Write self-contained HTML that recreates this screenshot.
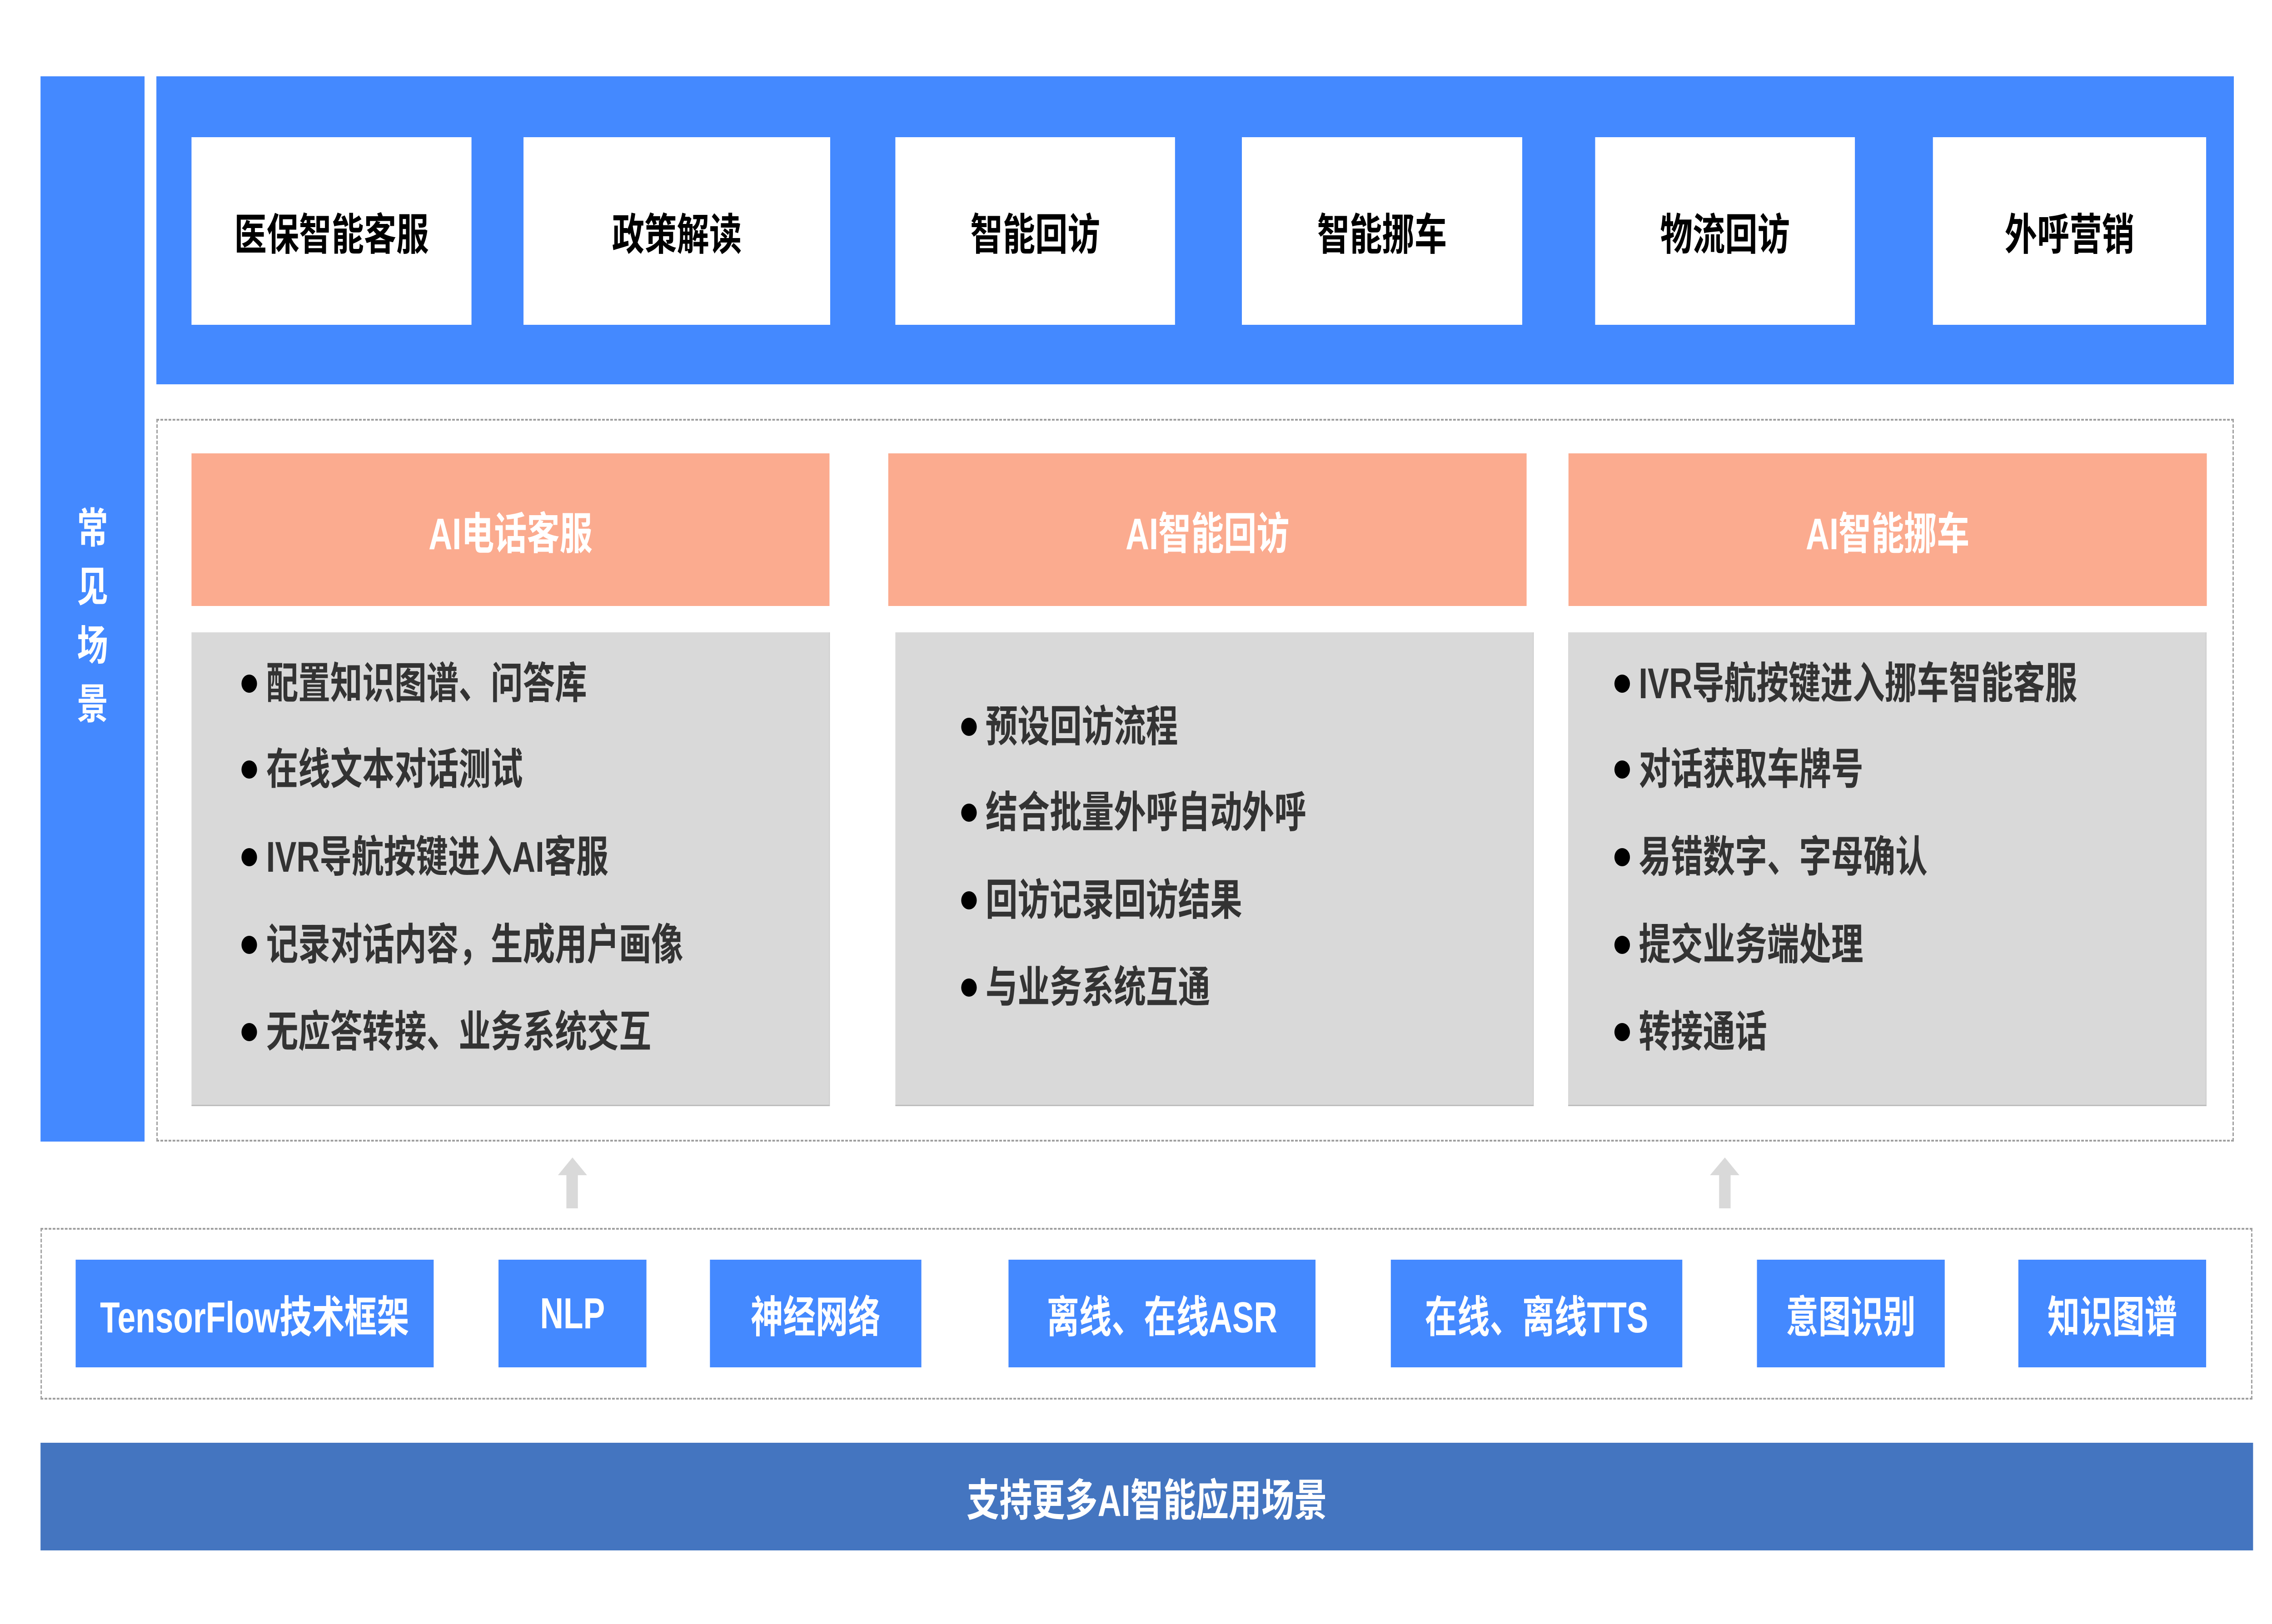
<!DOCTYPE html>
<html><head><meta charset="utf-8"><style>
*{margin:0;padding:0;box-sizing:border-box}
html,body{margin:0;overflow:hidden;background:#fff}
body{font-family:"Liberation Sans","Noto Sans CJK SC",sans-serif;font-weight:bold}
#w{position:absolute;left:0;top:0;width:6727px;height:3575px;overflow:hidden;transform-origin:0 0;background:#fff}
.a{position:absolute}
.c{display:flex;align-items:center;justify-content:center;white-space:nowrap}
.blue{background:#4489FF}
.wb{background:#fff;color:#000;font-size:96px}
.or{background:#FBAB8F;color:#fff;font-size:97px}
.gr{background:#D9D9D9;border-bottom:3px solid #bdbdbd;border-right:2px solid #c8c8c8}
.li{position:absolute;font-size:95px;color:#333;white-space:nowrap;line-height:100px;height:100px}
.bu{position:absolute;width:46px;height:40px;border-radius:50%;background:#000}
.tk{background:#4489FF;color:#fff;font-size:96px}
.dash{border:4px dashed #a0a0a0}
</style></head><body><div id="w">
<div class="a blue" style="left:120px;top:168px;width:308px;height:2345px"></div>
<div class="a" style="left:228px;top:1100px;width:92px;color:#fff;font-size:92px;line-height:129px;text-align:center">常<br>见<br>场<br>景</div>
<div class="a blue" style="left:463px;top:168px;width:6151px;height:678px"></div>
<div class="a c wb" style="left:567px;top:302px;width:829px;height:413px">医保智能客服</div>
<div class="a c wb" style="left:1550px;top:302px;width:908px;height:413px">政策解读</div>
<div class="a c wb" style="left:2651px;top:302px;width:828px;height:413px">智能回访</div>
<div class="a c wb" style="left:3677px;top:302px;width:830px;height:413px">智能挪车</div>
<div class="a c wb" style="left:4723px;top:302px;width:769px;height:413px">物流回访</div>
<div class="a c wb" style="left:5723px;top:302px;width:809px;height:413px">外呼营销</div>
<div class="a dash" style="left:463px;top:922px;width:6151px;height:1591px"></div>
<div class="a c or" style="left:567px;top:998px;width:1889px;height:336px">AI电话客服</div>
<div class="a c or" style="left:2630px;top:998px;width:1890px;height:336px">AI智能回访</div>
<div class="a c or" style="left:4644px;top:998px;width:1890px;height:336px">AI智能挪车</div>
<div class="a gr" style="left:567px;top:1392px;width:1890px;height:1043px"></div>
<div class="a gr" style="left:2651px;top:1392px;width:1890px;height:1043px"></div>
<div class="a gr" style="left:4643px;top:1392px;width:1890px;height:1043px"></div>
<div class="bu" style="left:715px;top:1485px"></div><div class="li" style="left:788px;top:1455px">配置知识图谱、问答库</div>
<div class="bu" style="left:715px;top:1674px"></div><div class="li" style="left:788px;top:1644px">在线文本对话测试</div>
<div class="bu" style="left:715px;top:1867px"></div><div class="li" style="left:788px;top:1837px">IVR导航按键进入AI客服</div>
<div class="bu" style="left:715px;top:2060px"></div><div class="li" style="left:788px;top:2030px">记录对话内容，生成用户画像</div>
<div class="bu" style="left:715px;top:2252px"></div><div class="li" style="left:788px;top:2222px">无应答转接、业务系统交互</div>
<div class="bu" style="left:2846px;top:1580px"></div><div class="li" style="left:2918px;top:1550px">预设回访流程</div>
<div class="bu" style="left:2846px;top:1769px"></div><div class="li" style="left:2918px;top:1739px">结合批量外呼自动外呼</div>
<div class="bu" style="left:2846px;top:1962px"></div><div class="li" style="left:2918px;top:1932px">回访记录回访结果</div>
<div class="bu" style="left:2846px;top:2154px"></div><div class="li" style="left:2918px;top:2124px">与业务系统互通</div>
<div class="bu" style="left:4780px;top:1485px"></div><div class="li" style="left:4852px;top:1455px">IVR导航按键进入挪车智能客服</div>
<div class="bu" style="left:4780px;top:1674px"></div><div class="li" style="left:4852px;top:1644px">对话获取车牌号</div>
<div class="bu" style="left:4780px;top:1867px"></div><div class="li" style="left:4852px;top:1837px">易错数字、字母确认</div>
<div class="bu" style="left:4780px;top:2060px"></div><div class="li" style="left:4852px;top:2030px">提交业务端处理</div>
<div class="bu" style="left:4780px;top:2252px"></div><div class="li" style="left:4852px;top:2222px">转接通话</div>
<svg class="a" style="left:0;top:0" width="6727" height="3575">
<polygon points="1695,2548 1738,2587 1711,2587 1711,2660 1677,2660 1677,2587 1652,2587" fill="#D9D9D9"/>
<polygon points="5107,2548 5150,2587 5124,2587 5124,2660 5090,2660 5090,2587 5063,2587" fill="#D9D9D9"/>
</svg>
<div class="a dash" style="left:120px;top:2703px;width:6549px;height:378px"></div>
<div class="a c tk" style="left:224px;top:2773px;width:1060px;height:237px">TensorFlow技术框架</div>
<div class="a c tk" style="left:1476px;top:2773px;width:438px;height:237px">NLP</div>
<div class="a c tk" style="left:2102px;top:2773px;width:626px;height:237px">神经网络</div>
<div class="a c tk" style="left:2986px;top:2773px;width:909px;height:237px">离线、在线ASR</div>
<div class="a c tk" style="left:4118px;top:2773px;width:863px;height:237px">在线、离线TTS</div>
<div class="a c tk" style="left:5202px;top:2773px;width:556px;height:237px">意图识别</div>
<div class="a c tk" style="left:5976px;top:2773px;width:556px;height:237px">知识图谱</div>
<div class="a c" style="left:120px;top:3176px;width:6551px;height:237px;background:#4475C0;color:#fff;font-size:97px">支持更多AI智能应用场景</div>
</div>
<script>
(function(){var w=document.getElementById('w');function f(){var sx=window.innerWidth/6727,sy=window.innerHeight/3575;if(Math.abs(sx-1)>0.001||Math.abs(sy-1)>0.001){w.style.transform='scale('+sx+','+sy+')';}else{w.style.transform='none';}document.body.style.width=window.innerWidth+'px';document.body.style.height=window.innerHeight+'px';}f();window.addEventListener('resize',f);})();
</script>
</body></html>
